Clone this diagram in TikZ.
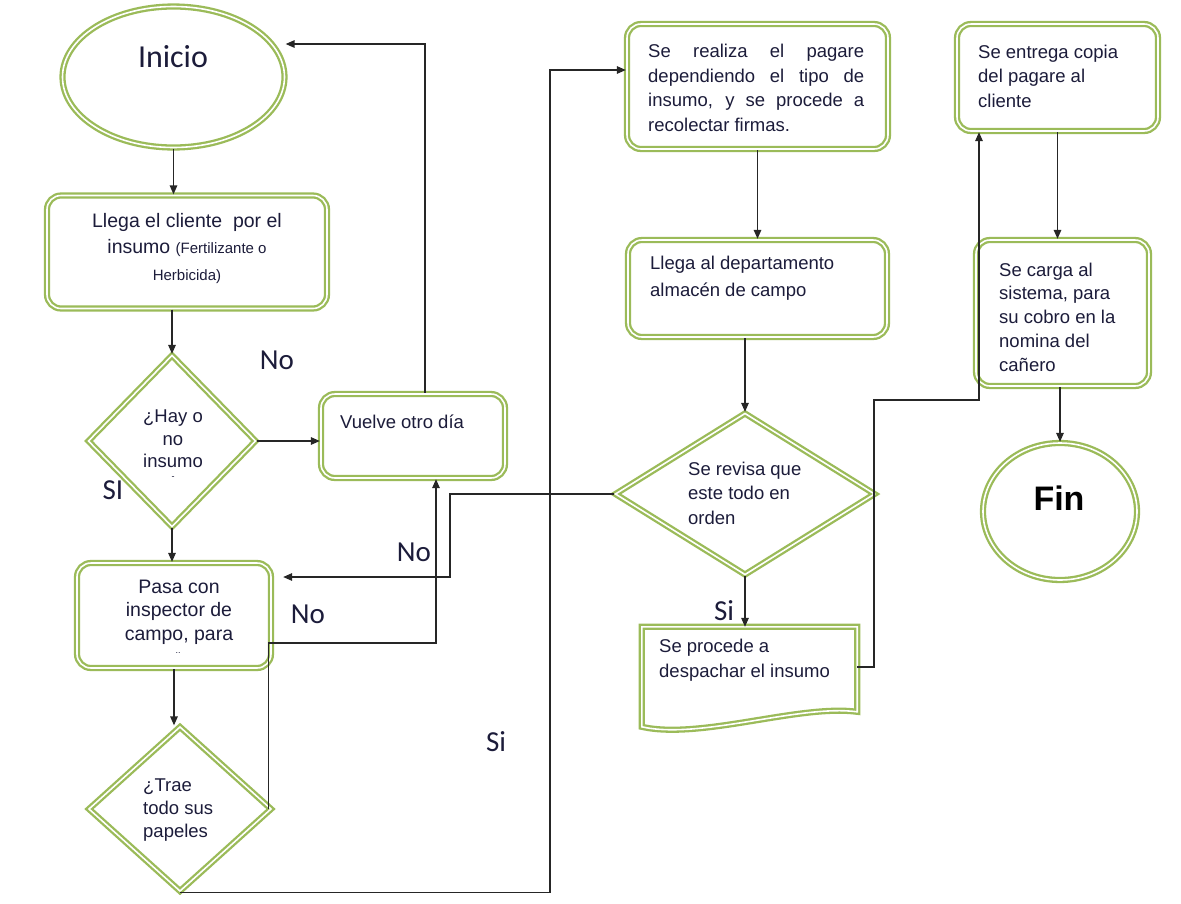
\documentclass[tikz,border=0pt]{standalone}
\usepackage{fontspec}
\setmainfont{Liberation Sans}
\newfontfamily\calfont{Carlito}
\usetikzlibrary{shapes.geometric,arrows.meta,calc}
\definecolor{gr}{HTML}{9BBB59}
\definecolor{tx}{HTML}{1C1C3A}
\begin{document}
\begin{tikzpicture}[x=1pt,y=-1pt,
  dbl/.style={draw=gr, line width=2.3pt, double=white, double distance=1.6pt, fill=white},
  boxs/.style={dbl, rectangle, rounded corners=14pt, inner sep=0pt},
  dia/.style={dbl, diamond, inner sep=0pt},
  ell/.style={dbl, ellipse, inner sep=0pt},
  txt/.style={text=tx, font=\fontsize{18.5}{24.5}\selectfont, inner sep=0pt, align=left},
  lbl/.style={text=tx, font=\calfont\fontsize{29}{30}\selectfont, inner sep=0pt},
  con/.style={draw=black!85, line width=1.4pt},
  arr/.style={con, -{Triangle[length=9pt,width=7.5pt]}}
]
\useasboundingbox (0,0) rectangle (1181,903);

% shapes
\node[ell, minimum width=222, minimum height=141] (inicio) at (173.5,77) {};
\node[lbl, font=\calfont\fontsize{32}{33}\selectfont] (tinicio) at (173,57) {Inicio};

\node[boxs, minimum width=280, minimum height=113] (b1) at (187,252) {};
\node[txt, align=center, font=\fontsize{19.5}{26.5}\selectfont] (tb1) at (187,248)
  {Llega el cliente\ \ por el\\insumo {\fontsize{15}{26.5}\selectfont(Fertilizante o}\\{\fontsize{15}{26.5}\selectfont Herbicida)}};

\node[dia, minimum width=168, minimum height=172] (d1) at (172,441) {};
\node[txt, align=center, font=\fontsize{18.5}{22.5}\selectfont] (td1) at (173,439) {¿Hay o\\no\\insumo};
\node[txt, font=\fontsize{9}{9}\selectfont] (td1b) at (173,478) {-};

\node[boxs, minimum width=184, minimum height=84] (vu) at (413,436) {};
\node[txt, anchor=west] (tvu) at (340,422) {Vuelve otro día};

\node[boxs, minimum width=194, minimum height=105] (pa) at (174,615.5) {};
\node[txt, align=center, font=\fontsize{19.5}{23.5}\selectfont] (tpa) at (179,612) {Pasa con\\inspector de\\campo, para};
\node[txt, font=\fontsize{9}{9}\selectfont] (tpab) at (178,653) {..};

\node[dia, minimum width=183, minimum height=165] (d2) at (180,809) {};
\node[txt, anchor=west, font=\fontsize{18.5}{23}\selectfont] (td2) at (143,810) {¿Trae\\todo sus\\papeles};

\node[boxs, minimum width=261, minimum height=125] (re) at (757.5,86.5) {};
\node[txt, anchor=west, text width=216pt, align=justify] (tre) at (648,88)
  {Se realiza el pagare\linebreak dependiendo el tipo de\linebreak insumo, y se procede a\linebreak recolectar firmas.};

\node[boxs, minimum width=259, minimum height=97] (ll) at (757.5,288.5) {};
\node[txt, anchor=west, font=\fontsize{18.5}{27}\selectfont] (tll) at (650,278) {Llega al departamento\\almacén de campo};

\node[dia, minimum width=260, minimum height=162] (d3) at (745,494) {};
\node[txt, anchor=west] (td3) at (688,493) {Se revisa que\\este todo en\\orden};

\node[minimum width=215, minimum height=100, inner sep=0pt] (doc) at (749.5,677) {};
\draw[dbl] (doc.north west) -- (doc.north east) -- ($(doc.north east)+(0,85)$)
  .. controls (800,704) and (700,740) .. ($(doc.north west)+(0,100)$) -- cycle;
\node[txt, anchor=west] (tdoc) at (659,660) {Se procede a\\despachar el insumo};

\node[boxs, minimum width=201, minimum height=107] (en) at (1057.5,77.5) {};
\node[txt, anchor=west] (ten) at (978,76) {Se entrega copia\\del pagare al\\cliente};

\node[boxs, minimum width=173, minimum height=146] (ca) at (1062.5,313) {};
\node[txt, anchor=west, font=\fontsize{18.5}{23.8}\selectfont] (tca) at (999,317) {Se carga al\\sistema, para\\su cobro en la\\nomina del\\cañero};

\node[ell, minimum width=154, minimum height=137] (fin) at (1060,511.5) {};
\node[font=\bfseries\fontsize{34}{34}\selectfont, text=black, inner sep=0pt] (tfin) at (1059,498) {Fin};

% coordinates
\coordinate (c0) at (425,44);
\coordinate (c1) at (436,643);
\coordinate (c2) at (550,70);
\coordinate (c3) at (450,577);
\coordinate (c4) at (874,400);
\coordinate (c5) at (979,400);

% connectors
\draw[arr] (inicio.south) -- (inicio.south |- b1.north);
\draw[arr] (d1.north |- b1.south) -- (d1.north);
\draw[arr] (d1.east) -- (vu.west |- d1.east);
\draw[arr] (vu.north -| c0) |- (inicio.east |- c0);
\draw[arr] (d1.south) -- (d1.south |- pa.north);
\draw[arr] (pa.south) -- (pa.south |- d2.north);
\draw[arr] ([xshift=-4pt]d2.east) |- (c1) -- (c1 |- vu.south);
\draw[arr] (d2.south) -| (c2) -- (c2 -| re.west);
\draw[arr, shorten >=11pt] (d3.west) -| (c3) -- (c3 -| pa.east);
\draw[arr] (re.south) -- (re.south |- ll.north);
\draw[arr] (ll.south -| d3.north) -- (d3.north);
\draw[arr] (d3.south) -- (d3.south |- doc.north);
\draw[arr] ([yshift=10pt]doc.east) -| (c4) -| (c5 |- en.south);
\draw[arr] (en.south) -- (en.south |- ca.north);
\draw[arr] (ca.south -| fin.north) -- (fin.north);

% labels
\node[lbl] (l1) at (277,360) {No};
\node[lbl] (l2) at (113,490) {SI};
\node[lbl] (l3) at (414,552) {No};
\node[lbl] (l4) at (308,614) {No};
\node[lbl] (l5) at (496,742) {Si};
\node[lbl] (l6) at (724,611) {Si};
\end{tikzpicture}
\end{document}
